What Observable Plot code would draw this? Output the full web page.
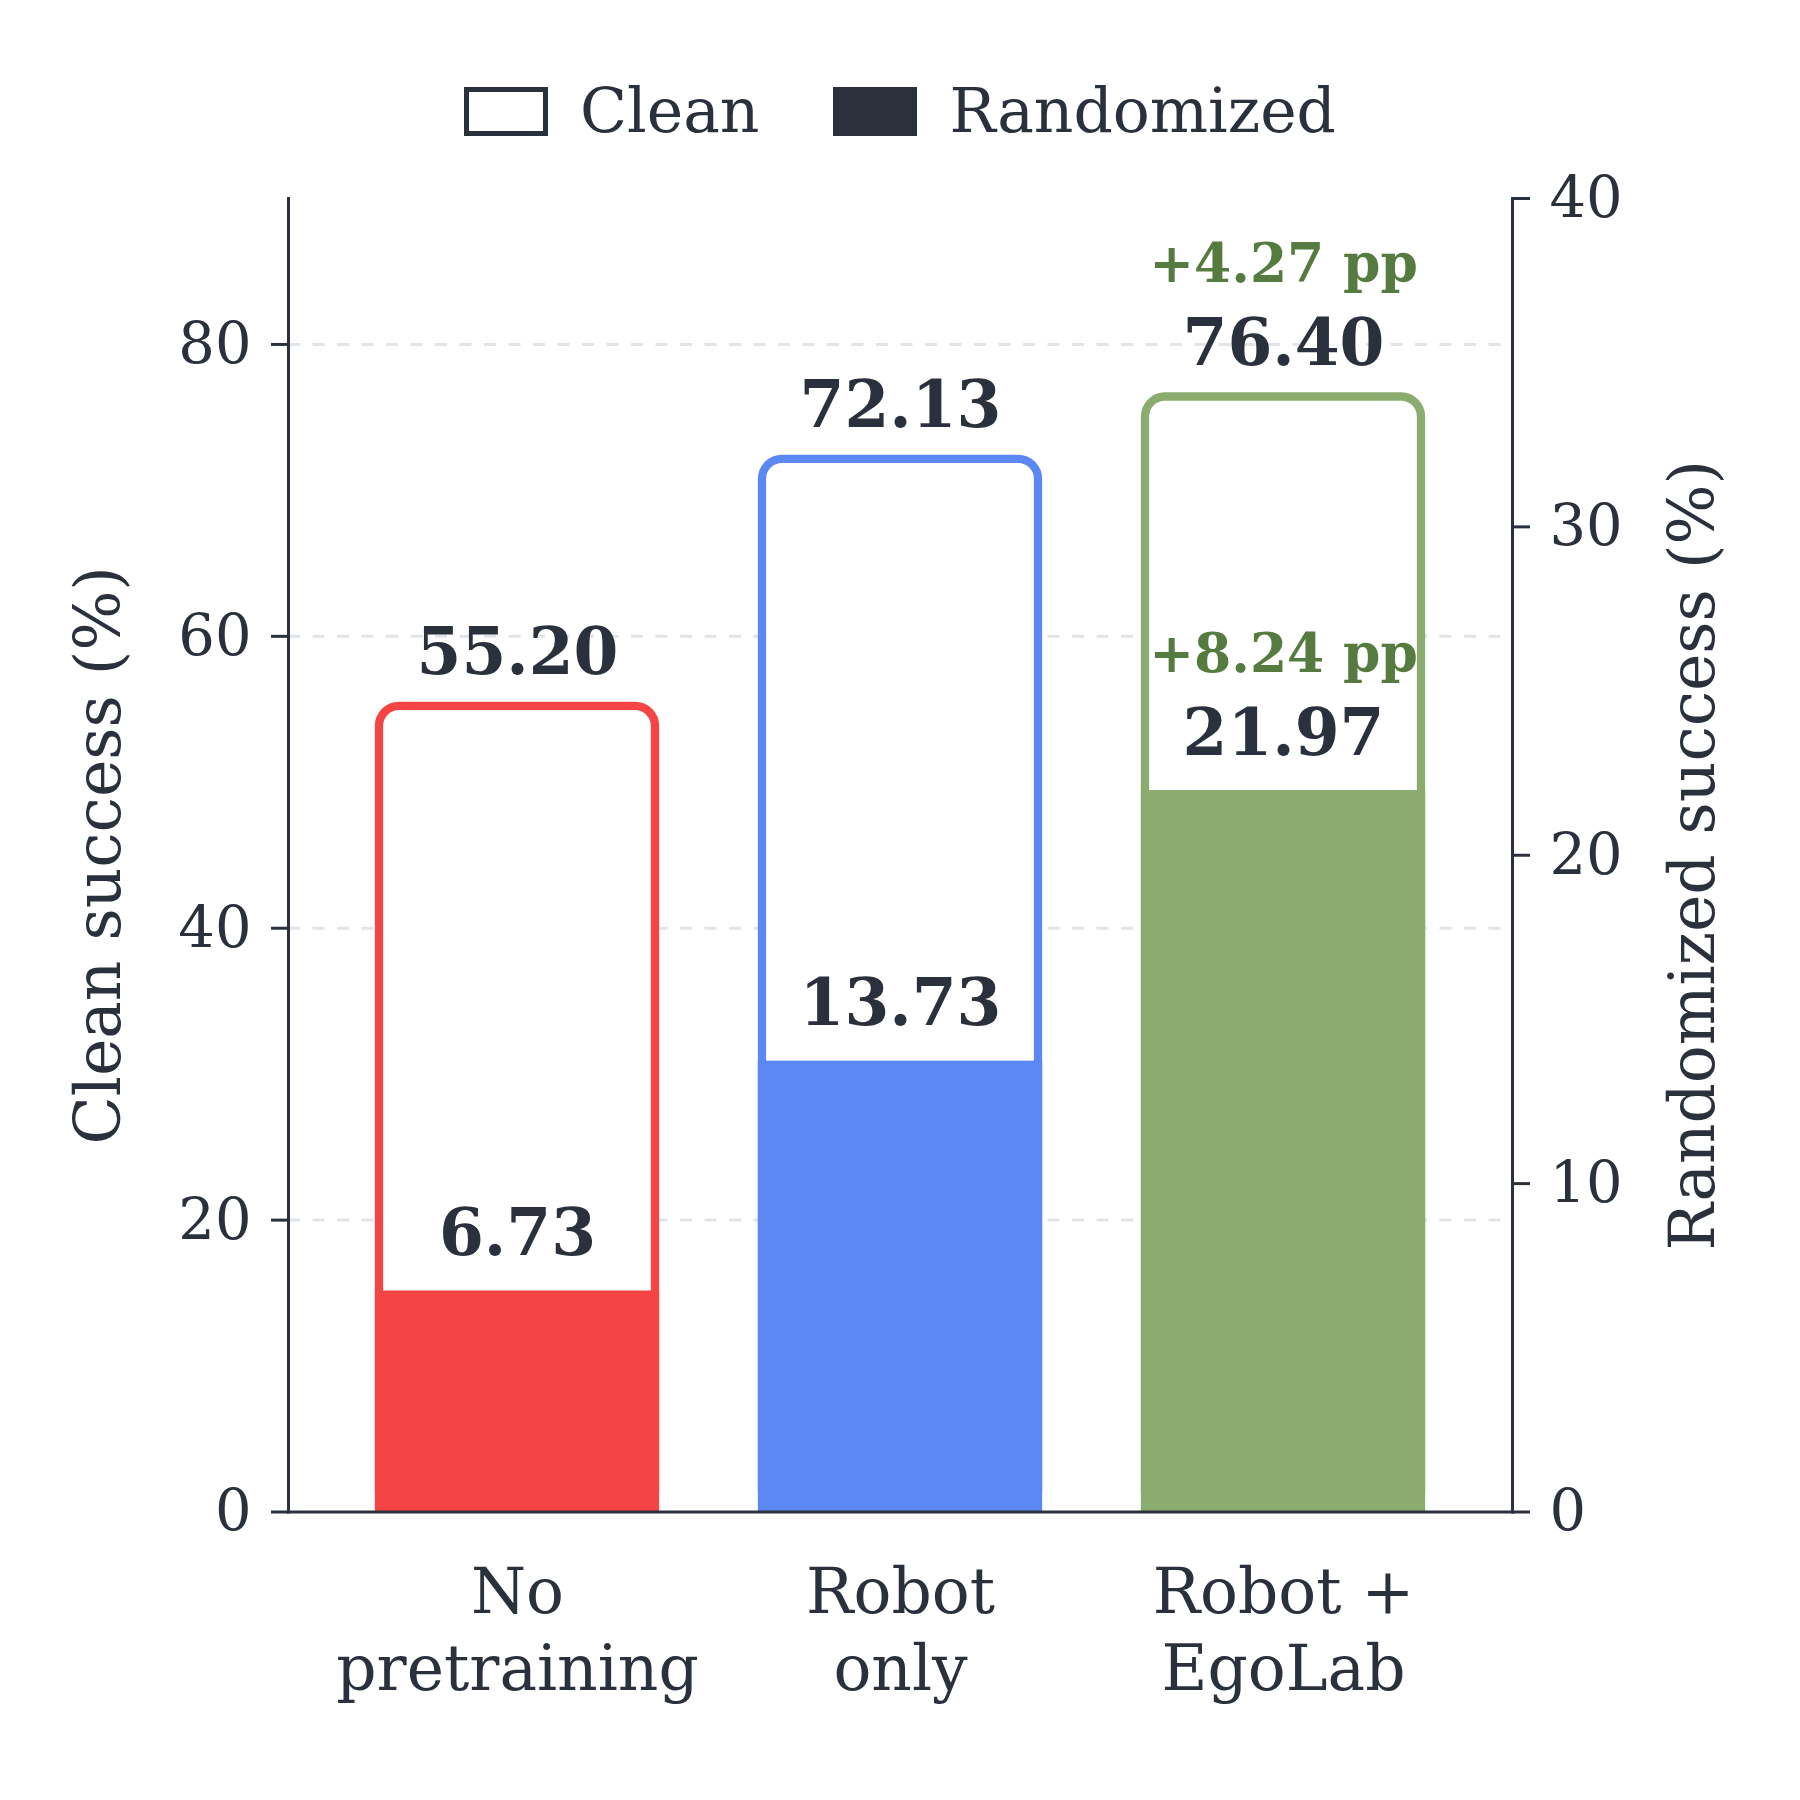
<!DOCTYPE html>
<html>
<head>
<meta charset="utf-8">
<script src="https://cdn.jsdelivr.net/npm/d3@7"></script>
<script src="https://cdn.jsdelivr.net/npm/@observablehq/plot@0.6"></script>
<style>
  html, body { margin: 0; padding: 0; background: #fff; }
  #wrap { width: 1800px; }
  #legend {
    width: 1800px; height: 150px; box-sizing: border-box; padding-top: 73px;
    display: flex; justify-content: center; align-items: center;
    font-family: "DejaVu Serif"; font-size: 61.5px; color: #2a313c; line-height: 1;
  }
  .sw { width: 84px; height: 49px; box-sizing: border-box; margin-right: 32px; }
  .sw.clean { border: 5px solid #2a313c; background: #fff; }
  .sw.rand { background: #2a313c; }
  .lab { white-space: nowrap; }
  .gap { width: 74px; }
</style>
</head>
<body>
<div id="wrap">
  <div id="legend">
    <div class="sw clean"></div><div class="lab">Clean</div>
    <div class="gap"></div>
    <div class="sw rand"></div><div class="lab">Randomized</div>
  </div>
  <div id="chart"></div>
</div>
<script>
// ---- data ----
const conditions = ["No\npretraining", "Robot\nonly", "Robot +\nEgoLab"];
const cleanValues = [55.20, 72.13, 76.40];
const randomizedValues = [6.73, 13.73, 21.97];
const cleanGain = [null, null, 4.27];
const randomizedGain = [null, null, 8.24];
const barColors = ["#f44444", "#5b88f2", "#8aac6f"];
const leftTicks = [0, 20, 40, 60, 80];
const gridTicks = [20, 40, 60, 80];
const rightTicks = [0, 10, 20, 30, 40];
const leftMax = 90;
const rightMax = 40;
const leftTitle = "Clean success (%)";
const rightTitle = "Randomized success (%)";

const k = leftMax / rightMax;
const ink = "#2a313c";
const gainColor = "#567b41";
const edge = 8.3;

const data = conditions.map((c, i) => ({
  cond: c,
  clean: cleanValues[i],
  rand: randomizedValues[i],
  color: barColors[i],
  cleanGain: cleanGain[i],
  randGain: randomizedGain[i]
}));

const valFont = 64.5, gainFont = 53.5;

const chart = Plot.plot({
  width: 1800,
  height: 1650,
  marginTop: 48,
  marginBottom: 288.5,
  marginLeft: 288,
  marginRight: 288,
  style: { fontFamily: "DejaVu Serif", color: ink, background: "white", overflow: "visible" },
  x: { domain: conditions, paddingInner: 0.28, paddingOuter: 0.235, axis: null },
  y: { domain: [0, leftMax] },
  color: { type: "identity" },
  marks: [
    Plot.ruleY(gridTicks, { stroke: "#e1e4e8", strokeWidth: 3, strokeDasharray: "12,12.5" }),
    Plot.barY(data, { x: "cond", y1: 0, y2: "clean", fill: "white", stroke: "color", strokeWidth: edge, rx: 20, clip: "frame" }),
    Plot.barY(data, { x: "cond", y1: 0, y2: d => d.rand * k, fill: "color", insetLeft: -edge / 2, insetRight: -edge / 2, clip: "frame" }),
    Plot.text(data, { x: "cond", y: "clean", text: d => d.clean.toFixed(2), dy: -32 - 0.32 * valFont, fontSize: valFont, fontWeight: "bold", fill: ink }),
    Plot.text(data, { x: "cond", y: d => d.rand * k, text: d => d.rand.toFixed(2), dy: -36 - 0.32 * valFont, fontSize: valFont, fontWeight: "bold", fill: ink }),
    Plot.text(data.filter(d => d.cleanGain != null), { x: "cond", y: "clean", text: d => `+${d.cleanGain.toFixed(2)} pp`, dy: -115 - 0.32 * gainFont, fontSize: gainFont, fontWeight: "bold", fill: gainColor }),
    Plot.text(data.filter(d => d.randGain != null), { x: "cond", y: d => d.rand * k, text: d => `+${d.randGain.toFixed(2)} pp`, dy: -119 - 0.32 * gainFont, fontSize: gainFont, fontWeight: "bold", fill: gainColor }),
    Plot.text(data, { x: "cond", frameAnchor: "bottom", text: "cond", lineAnchor: "top", dy: 46.5, fontSize: 63, lineHeight: 1.22, fill: ink }),
    Plot.axisY(leftTicks, { anchor: "left", tickSize: 17, tickPadding: 20, fontSize: 57.5, strokeWidth: 3, label: null }),
    Plot.axisY(rightTicks.map(v => v * k), { anchor: "right", tickSize: 17, tickPadding: 20, fontSize: 57.5, strokeWidth: 3, label: null, tickFormat: d => String(Math.round(d / k)) }),
    Plot.text([leftTitle], { frameAnchor: "left", text: d => d, dx: -189, rotate: -90, textAnchor: "middle", lineAnchor: "middle", fontSize: 63, fill: ink }),
    Plot.text([rightTitle], { frameAnchor: "right", text: d => d, dx: 181, rotate: -90, textAnchor: "middle", lineAnchor: "middle", fontSize: 63, fill: ink }),
    Plot.frame({ anchor: "left", stroke: ink, strokeWidth: 3 }),
    Plot.frame({ anchor: "right", stroke: ink, strokeWidth: 3 }),
    Plot.frame({ anchor: "bottom", stroke: ink, strokeWidth: 3 })
  ]
});
document.getElementById("chart").append(chart);
</script>
</body>
</html>
